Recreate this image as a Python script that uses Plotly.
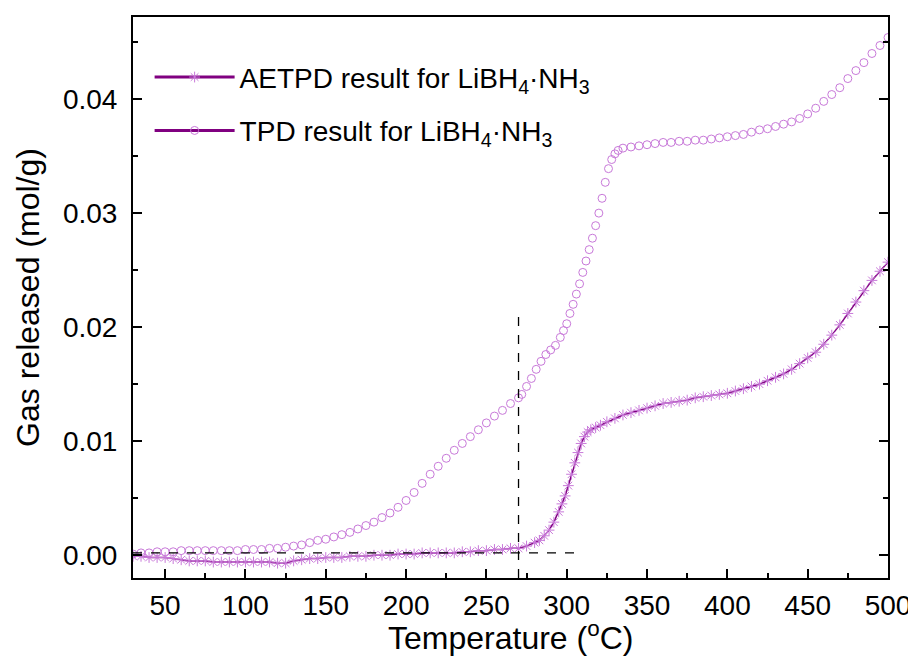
import plotly.graph_objects as go

# TPD result (circles)
tpd_T = [30, 35, 40, 45, 50, 55, 60, 65, 70, 75, 80, 85, 90, 95, 100, 105, 110, 115, 120, 125,
         130, 135, 140, 145, 150, 155, 160, 165, 170, 175, 180, 185, 190, 195, 200, 205, 210,
         215, 220, 225, 230, 235, 240, 245, 250, 255, 260, 265, 270, 272, 275, 278, 281, 284,
         287, 290, 293, 296, 298, 300, 302, 304, 306, 308, 310, 312, 314, 316, 318, 320, 322,
         324, 326, 328, 330, 332, 335, 340, 345, 350, 355, 360, 365, 370, 375, 380, 385, 390,
         395, 400, 405, 410, 415, 420, 425, 430, 435, 440, 445, 450, 455, 460, 465, 470, 475,
         480, 485, 490, 495, 500]
tpd_V = [0.0001, 0.0002, 0.0002, 0.0003, 0.0003, 0.0003, 0.0004, 0.0004, 0.0004, 0.0004,
         0.0004, 0.0004, 0.0004, 0.0004, 0.0005, 0.0005, 0.0005, 0.0006, 0.0006, 0.0007,
         0.0008, 0.0009, 0.0011, 0.0013, 0.0014, 0.0016, 0.0018, 0.0020, 0.0023, 0.0026,
         0.0029, 0.0033, 0.0037, 0.0042, 0.0048, 0.0055, 0.0063, 0.0071, 0.0078, 0.0085,
         0.0092, 0.0098, 0.0104, 0.0110, 0.0116, 0.0122, 0.0127, 0.0133, 0.0138, 0.0141,
         0.0148, 0.0155, 0.0163, 0.0170, 0.0176, 0.0180, 0.0184, 0.0191, 0.0197, 0.0203,
         0.0212, 0.0220, 0.0229, 0.0238, 0.0248, 0.0258, 0.0268, 0.0278, 0.0289, 0.0300,
         0.0313, 0.0327, 0.0339, 0.0347, 0.0352, 0.0355, 0.0357, 0.0358, 0.0359, 0.0360,
         0.0361, 0.0362, 0.0362, 0.0363, 0.0363, 0.0364, 0.0364, 0.0365, 0.0366, 0.0367,
         0.0368, 0.0369, 0.0371, 0.0373, 0.0374, 0.0376, 0.0378, 0.0380, 0.0383, 0.0387,
         0.0392, 0.0398, 0.0404, 0.0410, 0.0418, 0.0425, 0.0432, 0.0440, 0.0447, 0.0454]

# AETPD result (stars)
aetpd_T = [30, 35, 40, 45, 50, 55, 60, 65, 70, 75, 80, 85, 90, 95, 100, 105, 110, 115, 120, 125,
           130, 135, 140, 145, 150, 155, 160, 165, 170, 175, 180, 185, 190, 195, 200, 205, 210,
           215, 220, 225, 230, 235, 240, 245, 250, 255, 260, 265, 270, 275, 280, 283, 286, 289,
           292, 295, 297, 299, 301, 303, 305, 307, 309, 311, 313, 315, 318, 321, 325, 330, 335,
           340, 345, 350, 355, 360, 365, 370, 375, 380, 385, 390, 395, 400, 405, 410, 415, 420,
           425, 430, 435, 440, 445, 450, 455, 460, 465, 470, 475, 480, 485, 490, 495, 500]
aetpd_V = [-0.0001, -0.0001, -0.0002, -0.0002, -0.0002, -0.0003, -0.0004, -0.0005, -0.0005,
           -0.0005, -0.0006, -0.0006, -0.0006, -0.0006, -0.0006, -0.0006, -0.0006, -0.0006,
           -0.0007, -0.0007, -0.0005, -0.0004, -0.0003, -0.0003, -0.0002, -0.0002, -0.0002,
           -0.0001, -0.0001, -0.0001, 0.0000, 0.0000, 0.0000, 0.0001, 0.0001, 0.0001, 0.0002,
           0.0002, 0.0002, 0.0002, 0.0002, 0.0003, 0.0003, 0.0004, 0.0004, 0.0005, 0.0005,
           0.0006, 0.0006, 0.0008, 0.0011, 0.0013, 0.0017, 0.0022, 0.0029, 0.0038, 0.0045,
           0.0052, 0.0061, 0.0071, 0.0081, 0.0090, 0.0098, 0.0104, 0.0108, 0.0110, 0.0112,
           0.0114, 0.0117, 0.0120, 0.0123, 0.0125, 0.0127, 0.0129, 0.0131, 0.0133, 0.0134,
           0.0135, 0.0136, 0.0138, 0.0139, 0.0140, 0.0141, 0.0142, 0.0144, 0.0146, 0.0148,
           0.0150, 0.0153, 0.0156, 0.0159, 0.0163, 0.0168, 0.0173, 0.0178, 0.0185, 0.0193,
           0.0202, 0.0212, 0.0222, 0.0232, 0.0241, 0.0249, 0.0257]

# Guide lines
onset_T = 270
onset_top = 0.0212
base_V = 0.0002
base_end_T = 305

x_range = [30, 500]
y_range = [-0.002, 0.0472]

FONT = "Arial, Liberation Sans, sans-serif"
DARK = "#800080"
LIGHT = "#c879d9"
NAME_A = "AETPD result for LiBH<sub>4</sub>·NH<sub>3</sub>"
NAME_T = "TPD result for LiBH<sub>4</sub>·NH<sub>3</sub>"
X_TITLE = "Temperature (<sup>o</sup>C)"
Y_TITLE = "Gas released (mol/g)"

fig = go.Figure()
fig.add_trace(go.Scatter(
    x=aetpd_T, y=aetpd_V, mode="lines+markers", showlegend=False,
    line=dict(color=DARK, width=1.5),
    marker=dict(symbol="asterisk-open", size=9, color=LIGHT,
                line=dict(color=LIGHT, width=1)),
))
fig.add_trace(go.Scatter(
    x=tpd_T, y=tpd_V, mode="markers", showlegend=False,
    marker=dict(symbol="circle-open", size=8, color=LIGHT,
                line=dict(color=LIGHT, width=1)),
))
# legend entries
fig.add_trace(go.Scatter(
    x=[None], y=[None], mode="lines+markers", name=NAME_A, legendgroup="a",
    line=dict(color=DARK, width=3),
    marker=dict(symbol="asterisk-open", size=9, color=LIGHT, line=dict(color=LIGHT, width=1)),
))
fig.add_trace(go.Scatter(
    x=[None], y=[None], mode="lines+markers", name=NAME_T, legendgroup="t",
    line=dict(color=DARK, width=3),
    marker=dict(symbol="circle-open", size=8, color=LIGHT, line=dict(color=LIGHT, width=1)),
))

fig.add_shape(type="line", x0=onset_T, x1=onset_T, y0=y_range[0], y1=onset_top,
              line=dict(color="black", width=1.3, dash="dash"))
fig.add_shape(type="line", x0=x_range[0], x1=base_end_T, y0=base_V, y1=base_V,
              line=dict(color="black", width=1.3, dash="dash"))

axis_common = dict(
    showline=True, linecolor="black", linewidth=2, ticks="inside", tickwidth=2,
    ticklen=9, tickcolor="black", showgrid=False, zeroline=False, automargin=False,
    tickfont=dict(family=FONT, size=28, color="black"),
)
fig.update_xaxes(
    **axis_common, range=x_range, tick0=50, dtick=50, mirror=True, ticklabelstandoff=1,
    minor=dict(dtick=25, ticks="inside", ticklen=5, tickwidth=2, tickcolor="black"),
)
fig.update_yaxes(
    **axis_common, range=y_range, tick0=0, dtick=0.01, tickformat=".2f", mirror="ticks",
    ticklabelstandoff=8,
    minor=dict(dtick=0.005, ticks="inside", ticklen=5, tickwidth=2, tickcolor="black"),
    title=dict(text=Y_TITLE, font=dict(family=FONT, size=32, color="black"), standoff=14),
)

fig.add_annotation(text=X_TITLE, xref="paper", yref="paper", x=0.5, y=-0.103,
                   xanchor="center", yanchor="middle", showarrow=False,
                   font=dict(family=FONT, size=32, color="black"))

# the page body adds an 8px offset, margins compensate for it
fig.update_layout(
    width=916, height=657,
    margin=dict(l=125, r=36, t=9, b=87),
    plot_bgcolor="white", paper_bgcolor="white",
    showlegend=True,
    legend=dict(x=0.022, y=0.937, xanchor="left", yanchor="top", tracegroupgap=14,
                font=dict(family=FONT, size=28, color="black"),
                bgcolor="rgba(0,0,0,0)", itemwidth=80),
)

fig.write_html("out.html")
